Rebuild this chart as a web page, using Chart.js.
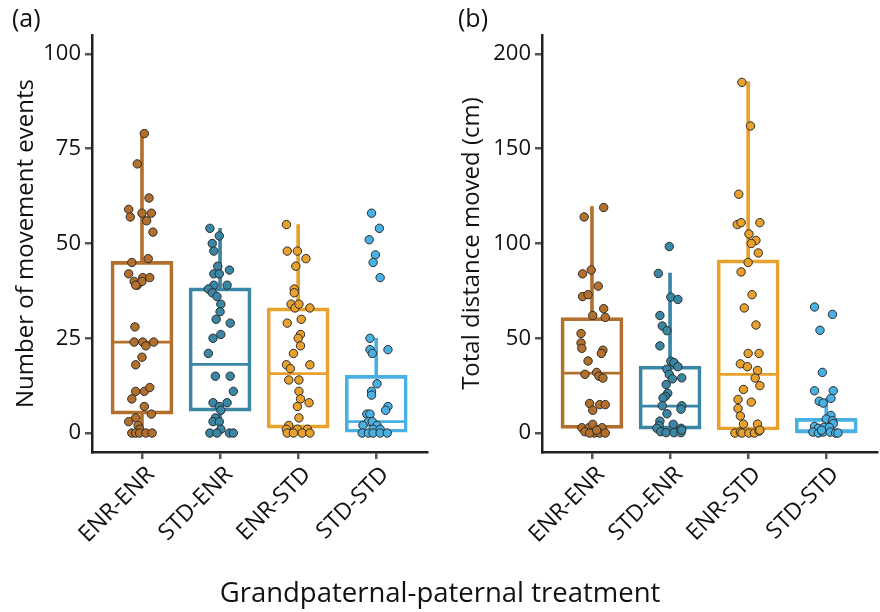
<!DOCTYPE html>
<html>
<head>
<meta charset="utf-8">
<script src="https://cdn.jsdelivr.net/npm/chart.js@4.4.0/dist/chart.umd.min.js"></script>
<style>
  body { margin: 0; background: #fff; }
  #wrap { position: relative; width: 880px; height: 612px; font-family: "Open Sans", sans-serif; }
  .panel { position: absolute; top: 0; width: 440px; height: 612px; }
  #xtitle { position: absolute; left: 0; width: 880px; top: 573px; text-align: center; font-size: 27.5px; color: #111; }
</style>
</head>
<body>
<div id="wrap">
  <div class="panel" style="left:0"><canvas id="chartA" width="440" height="612"></canvas></div>
  <div class="panel" style="left:440px"><canvas id="chartB" width="440" height="612"></canvas></div>
  <div id="xtitle">Grandpaternal-paternal treatment</div>
</div>
<script>
const categories = ["ENR-ENR", "STD-ENR", "ENR-STD", "STD-STD"];
const colors = ["#B2702C", "#3A87A5", "#E8A12C", "#48B0E2"];

const eventsTicks = [0, 25, 50, 75, 100];
const distanceTicks = [0, 50, 100, 150, 200];

// box summaries: [lower whisker, q1, median, q3, upper whisker]
const eventsBoxes = [
  [0, 5, 24, 45.3, 79],
  [0, 5.8, 18.1, 38.3, 54],
  [0, 1.3, 15.7, 33, 55],
  [0, 0.2, 3, 15.2, 25]
];
const distanceBoxes = [
  [0, 2.5, 31.6, 60.9, 119.5],
  [0, 2.1, 14.2, 35.3, 84.4],
  [0, 1.6, 31, 91.4, 185.4],
  [0, 0.2, 0.6, 7.7, 18.3]
];

// jittered points: [offset from category centre, value]
const eventsEnrEnr = [[0.03,79],[-0.06,71],[0.09,62],[-0.17,59],[-0.15,57],[0,58],[0.12,58],[0.06,56],[0.14,53],[0.08,46],
  [-0.13,45],[-0.17,42],[-0.10,40],[0.01,41],[0.10,41],[-0.06,39],[0,40],[-0.08,39],[-0.09,28],[-0.10,24],
  [0.01,24],[0.15,24],[0.05,23],[0,20],[-0.08,18],[-0.08,11],[0.03,11],[0.10,12],[-0.13,9],[0.03,7],
  [0.12,5],[-0.08,4],[-0.17,3],[-0.05,2],[-0.03,1],[-0.13,0],[-0.08,0],[-0.03,0],[0.05,0],[0.13,0]];
const eventsStdEnr = [[-0.13,54],[-0.01,52],[-0.10,50],[-0.08,48],[-0.03,44],[0.12,43],[-0.08,42],[-0.01,42],[-0.08,39],[0.09,39],
  [-0.15,38],[-0.10,37],[-0.04,36],[0.01,34],[0,32],[-0.05,30],[0.13,29],[0.01,26],[-0.09,25],[-0.15,21],
  [-0.06,15],[0.13,15],[0.17,11],[-0.09,8],[0.09,8],[-0.01,7],[0.01,6],[-0.06,4],[-0.09,3],[-0.01,3],
  [0.01,1],[-0.13,0],[-0.04,0],[0.12,0],[0.17,0]];
const eventsEnrStd = [[-0.15,55],[-0.14,48],[-0.01,48],[0.10,46],[-0.03,44],[-0.05,38],[-0.05,37],[-0.09,34],[-0.04,33],[0.01,34],
  [0.15,33],[0.04,30],[-0.14,29],[0.03,26],[0,25],[0.03,23],[-0.06,21],[-0.15,18],[-0.10,17],[0.15,18],
  [-0.12,14],[0.01,14],[0.01,11],[0.03,9],[0.14,8],[-0.01,7],[0.01,4],[-0.12,2],[-0.15,1],[-0.01,1],
  [0.12,1],[-0.14,0],[0.05,0],[0.15,0],[-0.06,0]];
const eventsStdStd = [[-0.06,58],[0.04,54],[-0.09,51],[-0.01,47],[-0.04,45],[0.05,41],[-0.08,25],[-0.08,22],[-0.05,21],[0.15,22],
  [0.01,13],[-0.06,11],[-0.06,10],[0.15,7],[0.12,6],[-0.12,5],[-0.08,5],[-0.10,3],[-0.05,3],[-0.17,2],
  [0.01,2],[-0.04,1],[0.05,1],[-0.18,0],[-0.10,0],[-0.04,0],[0.05,0],[0.14,0]];

const distanceEnrEnr = [[0.15,119],[-0.10,114],[-0.12,84],[-0.01,86],[0.08,77.5],[-0.12,72],[-0.05,73],[0.15,65.6],[0.01,62],[0.17,61],
  [-0.14,52.5],[-0.14,47.5],[-0.13,44.7],[0.14,43.7],[0.12,42],[-0.05,38],[0.06,32],[0.09,30],[-0.09,31],[0.14,29],
  [-0.03,15.6],[0.10,15],[0.17,15],[0.01,12],[-0.13,2.8],[-0.04,2.8],[0.01,4.6],[0.13,2.8],[-0.09,0.7],[0.03,0],
  [0.10,0],[0.17,0],[-0.03,0],[0.06,1.5]];
const distanceStdEnr = [[-0.01,98.4],[-0.15,84.2],[0.01,71.7],[0.10,70.5],[-0.13,62],[-0.10,56.5],[-0.04,54],[-0.13,46],[0.01,37.9],[0.05,37.2],
  [0.10,35],[-0.04,33.7],[-0.01,30.9],[0.03,28.6],[0.15,29.1],[-0.05,25.6],[-0.03,21],[-0.06,19.4],[-0.09,18.5],[-0.10,14.4],
  [0.15,14.4],[0.14,12.6],[-0.04,10.2],[-0.13,6.3],[-0.14,3.9],[0.04,4.6],[0.14,2.5],[-0.17,2.5],[-0.12,0.7],[-0.05,0.2],
  [0.05,0.2],[0.14,0.2],[0.15,1.6]];
const distanceEnrStd = [[-0.08,185],[0.03,162],[-0.12,126],[-0.14,110],[-0.09,111],[0.15,111],[0.01,105],[0.10,101.6],[0.04,100],[0.13,95],
  [0,90],[-0.09,85],[0.05,73],[-0.05,66],[0.10,57],[0,42],[0.14,42],[-0.10,36.5],[-0.01,35],[0.12,33],
  [0.09,29],[0.15,25],[-0.06,23],[-0.13,17.7],[0.04,16.3],[-0.13,13],[-0.10,9],[-0.06,4.7],[0.12,4.7],[-0.17,0],
  [-0.10,0.5],[-0.08,0],[0.01,0],[0.08,0],[0.14,1],[0.15,1.5]];
const distanceStdStd = [[-0.15,66.5],[0.08,62.6],[-0.08,54.2],[-0.05,32],[-0.15,22.3],[0.09,22.3],[0.06,18.3],[-0.09,16.8],[-0.04,15.8],[0.06,9.3],
  [0,7.4],[0.08,6.5],[0.09,5],[-0.15,3.5],[-0.10,2.5],[-0.03,3],[0.04,3],[-0.17,0.5],[-0.10,0],[-0.04,0.5],
  [0.05,0.5],[0.12,0],[0.15,0],[-0.06,1.5]];

const eventsPoints = [eventsEnrEnr, eventsStdEnr, eventsEnrStd, eventsStdStd];
const distancePoints = [distanceEnrEnr, distanceStdEnr, distanceEnrStd, distanceStdStd];

const FONT = "'Open Sans', sans-serif";
const INK = '#111';

function makeChart(id, panelLabel, yTitle, groups, boxes, yTicks, yMin, yMax, pad) {
  const datasets = [];

  groups.forEach((pts, i) => {
    datasets.push({
      type: 'scatter',
      data: pts.map(p => ({ x: i + p[0], y: p[1] })),
      backgroundColor: colors[i],
      borderColor: '#2b2b2b',
      borderWidth: 1,
      pointRadius: 4.2,
      order: 0
    });
  });

  // median lines
  datasets.push({
    type: 'scatter',
    data: boxes.map((b, i) => ({ x: i, y: b[2] })),
    pointStyle: 'line',
    pointRadius: 29.5,
    borderColor: colors,
    borderWidth: 2.8,
    order: 1
  });

  // boxes (q1 -> q3)
  datasets.push({
    type: 'bar',
    data: boxes.map((b, i) => ({ x: i, y: [b[1], b[3]] })),
    backgroundColor: 'rgba(0,0,0,0)',
    borderColor: colors,
    borderWidth: 3,
    borderSkipped: false,
    barThickness: 62,
    grouped: false,
    order: 2
  });

  // whiskers
  datasets.push({
    type: 'bar',
    data: boxes.map((b, i) => ({ x: i, y: [b[3], b[4]] }))
      .concat(boxes.map((b, i) => ({ x: i, y: [b[0], b[1]] }))),
    backgroundColor: colors.concat(colors),
    borderWidth: 0,
    barThickness: 3,
    grouped: false,
    order: 3
  });

  return new Chart(document.getElementById(id), {
    data: { datasets },
    options: {
      responsive: false,
      animation: false,
      layout: { autoPadding: false, padding: { left: pad.left, right: pad.right, top: 0, bottom: 60 } },
      plugins: {
        legend: { display: false },
        tooltip: { enabled: false },
        title: {
          display: true,
          text: panelLabel,
          align: 'start',
          color: INK,
          font: { family: FONT, size: 25, weight: 'normal', lineHeight: 1.1 },
          padding: { top: 6, bottom: 1.5 }
        }
      },
      scales: {
        x: {
          type: 'linear',
          offset: false,
          min: -0.64,
          max: 3.65,
          afterBuildTicks: s => { s.ticks = categories.map((c, i) => ({ value: i })); },
          afterFit: s => { s.height = 100; s.paddingLeft = 0; s.paddingRight = 0; },
          ticks: {
            callback: v => categories[v],
            autoSkip: false,
            maxRotation: 45,
            minRotation: 45,
            padding: 2,
            labelOffset: 9,
            color: INK,
            font: { family: FONT, size: 23 }
          },
          grid: { offset: false, drawOnChartArea: false, drawTicks: true, tickLength: 7, color: '#555', lineWidth: 2.5 },
          border: { display: true, color: '#222', width: 2.5 }
        },
        y: {
          min: yMin,
          max: yMax,
          afterBuildTicks: s => { s.ticks = yTicks.map(v => ({ value: v })); },
          afterFit: s => { s.width = pad.axis; },
          ticks: {
            padding: 4,
            color: INK,
            font: { family: FONT, size: 22 }
          },
          grid: { drawOnChartArea: false, drawTicks: true, tickLength: 7, color: '#555', lineWidth: 2.5 },
          border: { display: true, color: '#222', width: 2.5 },
          title: {
            display: true,
            text: yTitle,
            color: INK,
            padding: 0,
            font: { family: FONT, size: 24 }
          }
        }
      }
    }
  });
}

makeChart('chartA', '(a)', 'Number of movement events', eventsPoints, eventsBoxes,
  eventsTicks, -5, 105, { left: 12, right: 13, axis: 80 });
makeChart('chartB', '(b)', 'Total distance moved (cm)', distancePoints, distanceBoxes,
  distanceTicks, -10, 210, { left: 18, right: 3, axis: 84 });
</script>
</body>
</html>
